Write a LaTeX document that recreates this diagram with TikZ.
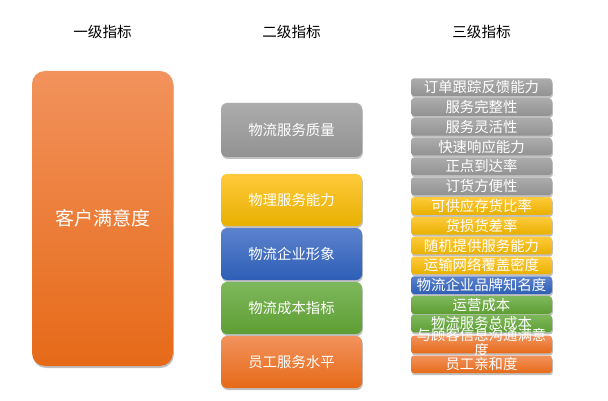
\documentclass[tikz,border=0pt]{standalone}
\usepackage{fontspec}
\newfontfamily\cjk{Noto Sans CJK SC}
\usetikzlibrary{shadows}
\definecolor{orT}{RGB}{242,146,92}
\definecolor{orM}{RGB}{245,128,42}
\definecolor{orB}{RGB}{230,106,24}
\definecolor{grT}{RGB}{172,172,172}
\definecolor{grM}{RGB}{160,160,160}
\definecolor{grB}{RGB}{146,146,146}
\definecolor{yeT}{RGB}{255,202,60}
\definecolor{yeM}{RGB}{255,192,0}
\definecolor{yeB}{RGB}{232,176,0}
\definecolor{blT}{RGB}{92,130,205}
\definecolor{blM}{RGB}{65,110,195}
\definecolor{blB}{RGB}{46,94,182}
\definecolor{gnT}{RGB}{126,184,92}
\definecolor{gnM}{RGB}{112,173,71}
\definecolor{gnB}{RGB}{94,158,51}
\tikzset{
  basebox/.style={shade, text=white, inner sep=0pt, align=center,
    drop shadow={shadow xshift=0.8pt, shadow yshift=-2pt, opacity=0.35, fill=black!70}},
  fillor/.style={top color=orT, middle color=orM, bottom color=orB},
  fillgr/.style={top color=grT, middle color=grM, bottom color=grB},
  fillye/.style={top color=yeT, middle color=yeM, bottom color=yeB},
  fillbl/.style={top color=blT, middle color=blM, bottom color=blB},
  fillgn/.style={top color=gnT, middle color=gnM, bottom color=gnB},
  bigbox/.style={basebox, rounded corners=13pt, minimum width=141pt, minimum height=295pt,
    font=\cjk\fontsize{19}{21}\selectfont},
  midbox/.style={basebox, rounded corners=6pt, minimum width=141pt,
    font=\cjk\fontsize{14.4}{15}\selectfont},
  rowbox/.style={basebox, rounded corners=3pt, minimum width=141pt, minimum height=17.7pt,
    font=\cjk\fontsize{14.4}{15}\selectfont},
  rowtext/.style={text=white, inner sep=0pt, align=center,
    font=\cjk\fontsize{14.4}{15}\selectfont},
  header/.style={font=\cjk\fontsize{14.6}{16}\selectfont, text=black, inner sep=0pt}
}
\begin{document}
\begin{tikzpicture}[x=1pt,y=-1pt]
\useasboundingbox[fill=white] (0,0) rectangle (608,401);
\node[header] (h1) at (102.5,31.5) {一级指标};
\node[header] (h2) at (291.5,31.5) {二级指标};
\node[header] (h3) at (481.5,31.5) {三级指标};

\node[bigbox, fillor] (root) at (102.5,218.5) {客户满意度};

\node[midbox, fillgr, minimum height=54pt] (m1) at (291.5,130) {物流服务质量};
\node[midbox, fillye, minimum height=52pt] (m2) at (291.5,200) {物理服务能力};
\node[midbox, fillbl, minimum height=52pt] (m3) at (291.5,254) {物流企业形象};
\node[midbox, fillgn, minimum height=52pt] (m4) at (291.5,308) {物流成本指标};
\node[midbox, fillor, minimum height=52pt] (m5) at (291.5,362) {员工服务水平};

\node[rowbox, fillgr] (r1) at (481.5,87.15) {订单跟踪反馈能力};
\node[rowbox, fillgr] (r2) at (481.5,106.95) {服务完整性};
\node[rowbox, fillgr] (r3) at (481.5,126.75) {服务灵活性};
\node[rowbox, fillgr] (r4) at (481.5,146.55) {快速响应能力};
\node[rowbox, fillgr] (r5) at (481.5,166.35) {正点到达率};
\node[rowbox, fillgr] (r6) at (481.5,186.15) {订货方便性};
\node[rowbox, fillye] (r7) at (481.5,205.95) {可供应存货比率};
\node[rowbox, fillye] (r8) at (481.5,225.75) {货损货差率};
\node[rowbox, fillye] (r9) at (481.5,245.55) {随机提供服务能力};
\node[rowbox, fillye] (r10) at (481.5,265.35) {运输网络覆盖密度};
\node[rowbox, fillbl] (r11) at (481.5,285.15) {物流企业品牌知名度};
\node[rowbox, fillgn] (r12) at (481.5,304.95) {运营成本};
\node[rowbox, fillgn] (r13) at (481.5,323.5) {物流服务总成本};
\node[rowbox, fillor] (r14) at (481.5,344.55) {};
\node[rowtext] (t14) at (481.5,342.3) {与顾客信息沟通满意\\度};
\node[rowbox, fillor] (r15) at (481.5,364.35) {员工亲和度};
\end{tikzpicture}
\end{document}
